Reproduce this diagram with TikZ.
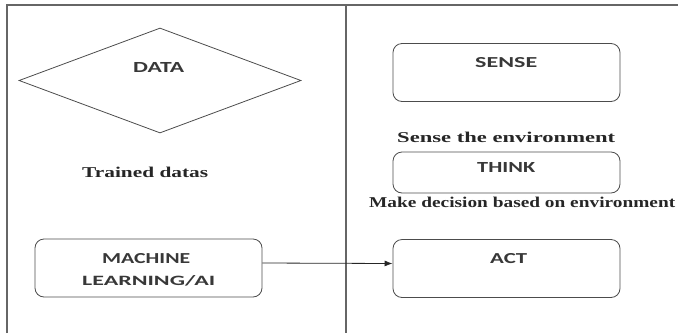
\documentclass[tikz,border=0pt]{standalone}
\usepackage{fontspec}
\usepackage{graphicx}
\setmainfont{Liberation Serif}
\newfontfamily\boxfont{Carlito}
\usetikzlibrary{shapes.geometric,arrows.meta}
\newcommand{\capsfit}[2]{\resizebox{#1}{10pt}{#2}}
\newcommand{\seriffit}[2]{\resizebox{#1}{\height}{#2}}
\begin{document}
\begin{tikzpicture}[x=1pt,y=-1pt,
  frameline/.style={draw=black!60, line width=1.6pt},
  boxshape/.style={draw=black!70, line width=0.8pt, rounded corners=9pt, minimum width=227pt, minimum height=58pt, inner sep=0pt},
  boxtext/.style={font=\boxfont\bfseries\fontsize{13}{16}\selectfont, text=black!78, inner sep=0pt, anchor=base west},
  serifnote/.style={font=\bfseries\fontsize{15}{17}\selectfont, text=black!85, inner sep=0pt, anchor=base west},
  conn/.style={draw=black!85, line width=0.8pt, -{Latex[length=8pt,width=6pt]}}]
\useasboundingbox (0,0) rectangle (678,333);
% frame
\coordinate (tl) at (7,5);
\coordinate (tr) at (678,5);
\coordinate (bl) at (7,333);
\coordinate (dt) at (346,5);
\coordinate (db) at (346,333);
\draw[frameline] (bl) -- (tl) -- (tr);
\draw[frameline] (dt) -- (db);
% diamond
\node[diamond, draw=black!70, line width=0.8pt, minimum width=282pt, minimum height=105pt, inner sep=0pt] (data) at (160,80.5) {};
\node[boxtext] (datalbl) at (133,72) {\capsfit{51pt}{DATA}};
\node[serifnote] (trained) at (82,177) {\seriffit{126pt}{Trained datas}};
% right column
\node[boxshape] (sense) at (506.5,72.5) {};
\node[boxtext] (senselbl) at (475,67) {\capsfit{62pt}{SENSE}};
\node[serifnote] (sensenote) at (397,142) {\seriffit{218pt}{Sense the environment}};
\node[boxshape, minimum height=41pt] (think) at (506.5,172.5) {};
\node[boxtext] (thinklbl) at (477,172) {\capsfit{58pt}{THINK}};
\node[serifnote] (thinknote) at (369,207) {\seriffit{306pt}{Make decision based on environment}};
\node[boxshape] (act) at (506.5,268.5) {};
\node[boxtext] (actlbl) at (490,263) {\capsfit{37pt}{ACT}};
% ML box
\node[boxshape] (ml) at (148.5,268) {};
\node[boxtext] (mllbla) at (102,263) {\capsfit{88pt}{MACHINE}};
\node[boxtext] (mllblb) at (82,285) {\capsfit{133pt}{LEARNING/AI}};
% arrow
\draw[conn] ([yshift=5pt]ml.east) -- ([yshift=5pt]act.west);
\end{tikzpicture}
\end{document}
